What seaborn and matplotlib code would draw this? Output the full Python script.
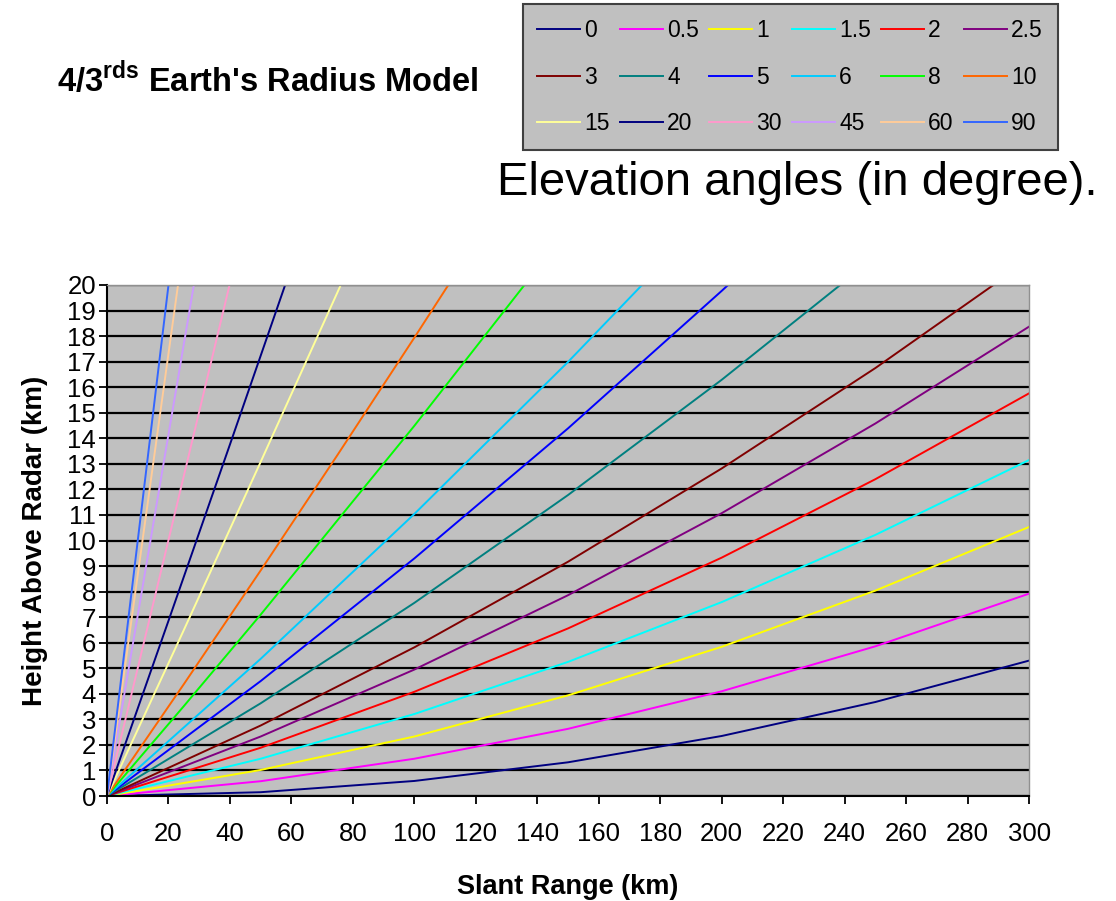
import pandas as pd
import seaborn as sns
import matplotlib.pyplot as plt

# elevation angles (deg) and their line colours
angles = ["0", "0.5", "1", "1.5", "2", "2.5", "3", "4", "5", "6",
          "8", "10", "15", "20", "30", "45", "60", "90"]
colors = ["#000080", "#FF00FF", "#FFFF00", "#00FFFF", "#FF0000", "#800080",
          "#800000", "#008080", "#0000FF", "#00CCFF", "#00FF00", "#FF6600",
          "#FFFF99", "#000080", "#FF99CC", "#CC99FF", "#FFCC99", "#3366FF"]

# slant range (km) / height above radar (km)
r_0 = [0, 50, 100, 150, 200, 250, 300]
h_0 = [0, 0.15, 0.59, 1.32, 2.35, 3.68, 5.30]
r_05 = [0, 50, 100, 150, 200, 250, 300]
h_05 = [0, 0.58, 1.46, 2.63, 4.10, 5.86, 7.92]
r_1 = [0, 50, 100, 150, 200, 250, 300]
h_1 = [0, 1.02, 2.33, 3.94, 5.84, 8.04, 10.53]
r_15 = [0, 50, 100, 150, 200, 250, 300]
h_15 = [0, 1.46, 3.21, 5.25, 7.59, 10.22, 13.15]
r_2 = [0, 50, 100, 150, 200, 250, 300]
h_2 = [0, 1.89, 4.08, 6.56, 9.33, 12.40, 15.76]
r_25 = [0, 50, 100, 150, 200, 250, 300]
h_25 = [0, 2.33, 4.95, 7.86, 11.07, 14.58, 18.37]
r_3 = [0, 50, 100, 150, 200, 250, 300]
h_3 = [0, 2.76, 5.82, 9.17, 12.82, 16.75, 20.98]
r_4 = [0, 50, 100, 150, 200, 250]
h_4 = [0, 3.63, 7.56, 11.78, 16.29, 21.10]
r_5 = [0, 50, 100, 150, 200, 210]
h_5 = [0, 4.50, 9.30, 14.39, 19.77, 20.88]
r_6 = [0, 50, 100, 150, 200]
h_6 = [0, 5.37, 11.04, 16.99, 23.24]
r_8 = [0, 25, 50, 100, 150]
h_8 = [0, 3.52, 7.10, 14.49, 22.18]
r_10 = [0, 25, 50, 75, 100, 125]
h_10 = [0, 4.38, 8.83, 13.35, 17.94, 22.60]
r_15d = [0, 25, 50, 75, 100]
h_15d = [0, 6.50, 13.08, 19.72, 26.43]
r_20 = [0, 20, 40, 60]
h_20 = [0, 6.86, 13.76, 20.71]
r_30 = [0, 20, 40, 50]
h_30 = [0, 10.02, 20.07, 25.11]
r_45 = [0, 15, 30]
h_45 = [0, 10.61, 21.24]
r_60 = [0, 15, 25]
h_60 = [0, 12.99, 21.65]
r_90 = [0, 10, 25]
h_90 = [0, 10.0, 25.0]

ranges = [r_0, r_05, r_1, r_15, r_2, r_25, r_3, r_4, r_5, r_6,
          r_8, r_10, r_15d, r_20, r_30, r_45, r_60, r_90]
heights = [h_0, h_05, h_1, h_15, h_2, h_25, h_3, h_4, h_5, h_6,
           h_8, h_10, h_15d, h_20, h_30, h_45, h_60, h_90]

rows = []
for a, rr, hh in zip(angles, ranges, heights):
    for r, h in zip(rr, hh):
        rows.append({"angle": a, "range": r, "height": h})
df = pd.DataFrame(rows)

plt.rcParams['font.family'] = ['Liberation Sans', 'DejaVu Sans']
plt.rcParams['mathtext.fontset'] = 'custom'
plt.rcParams['mathtext.bf'] = 'Liberation Sans:bold'
plt.rcParams['mathtext.rm'] = 'Liberation Sans:bold'

fig = plt.figure(figsize=(11.16, 9.01), dpi=100)
ax = fig.add_axes([0.0959, 0.1165, 0.8262, 0.5672])
ax.set_facecolor("#C0C0C0")

sns.lineplot(data=df, x="range", y="height", hue="angle", hue_order=angles,
             palette=dict(zip(angles, colors)), estimator=None, sort=False,
             lw=1.4, legend=False, ax=ax)

ax.set_xlim(0, 300)
ax.set_ylim(0, 20)
ax.set_xticks(range(0, 301, 20))
ax.set_yticks(range(0, 21))
ax.yaxis.grid(True, color="black", lw=1.6)
ax.set_axisbelow(True)
for s in ["top", "right"]:
    ax.spines[s].set_color("#909090")
    ax.spines[s].set_linewidth(1)
for s in ["left", "bottom"]:
    ax.spines[s].set_color("black")
    ax.spines[s].set_linewidth(1.5)
ax.tick_params(axis="x", direction="out", length=6, width=1.3, pad=13, labelsize=18.5)
ax.tick_params(axis="y", direction="out", length=6, width=1.3, pad=2, labelsize=18.5)
ax.set_xlabel("Slant Range (km)", fontsize=19.5, fontweight="bold", labelpad=20)
ax.set_ylabel("Height Above Radar (km)", fontsize=20, fontweight="bold", labelpad=14)

# legend, filled row by row like the original
lines = ax.get_lines()[:len(angles)]
order = [r * 6 + c for c in range(6) for r in range(3)]
leg = fig.legend([lines[i] for i in order], [angles[i] for i in order],
                 ncol=6, loc="center", bbox_to_anchor=(0.708, 0.9145),
                 fontsize=16.5, frameon=True, fancybox=False, handlelength=1.85,
                 handletextpad=0.2, columnspacing=0.45, labelspacing=1.03,
                 borderpad=0.65, borderaxespad=0)
leg.get_frame().set_facecolor("#C0C0C0")
leg.get_frame().set_edgecolor("#404040")
leg.get_frame().set_linewidth(1.5)
leg.get_frame().set_alpha(1)

fig.text(0.051, 0.911, r"4/3$^{\mathbf{rds}}$ Earth's Radius Model",
         fontsize=23.5, fontweight="bold", va="center", ha="left")
fig.text(0.445, 0.797, "Elevation angles (in degree).", fontsize=34,
         va="center", ha="left")

plt.savefig("out.png", dpi=100)
